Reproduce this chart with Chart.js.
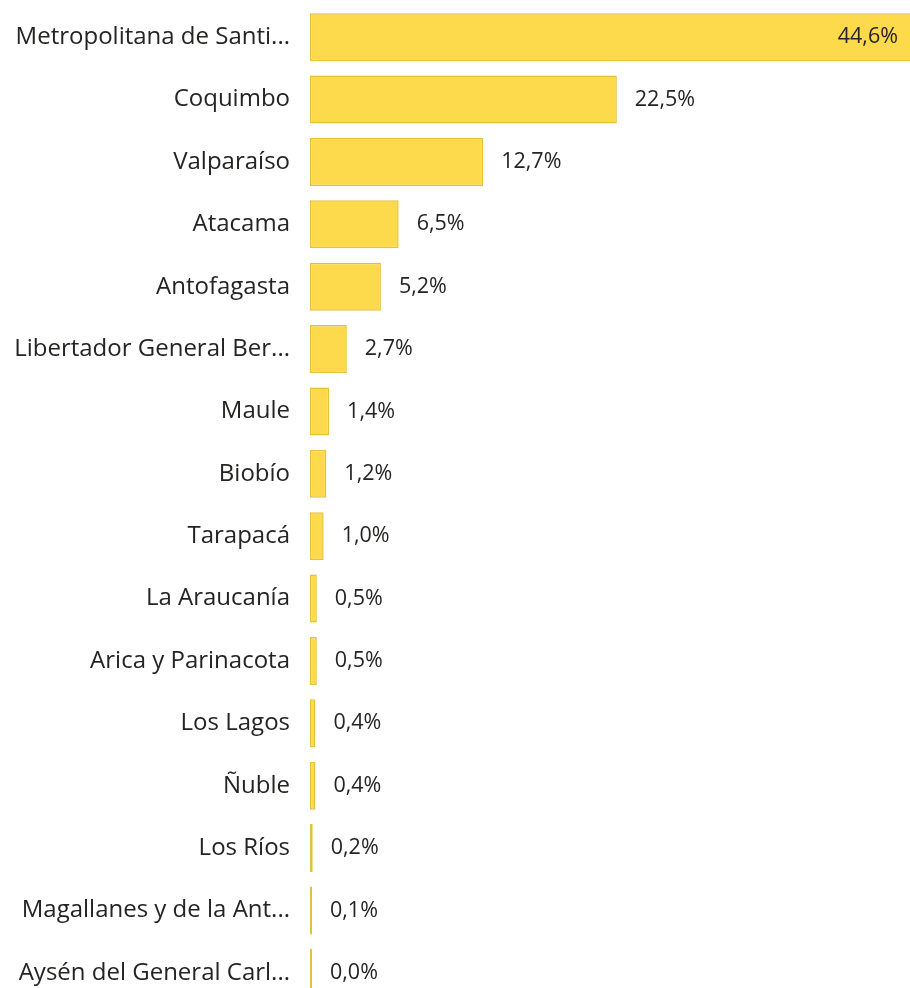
<!DOCTYPE html>
<html>
<head>
<meta charset="utf-8">
<script src="https://cdn.jsdelivr.net/npm/chart.js@4.4.1/dist/chart.umd.min.js"></script>
<style>
  html, body { margin: 0; padding: 0; background: #fff; overflow: hidden; }
  #wrap { position: relative; width: 910px; height: 1004px; }
</style>
</head>
<body>
<div id="wrap"><canvas id="chart"></canvas></div>
<script>
// regions as shown on the chart (truncated like the original)
const regions = [
  "Metropolitana de Santi...", "Coquimbo", "Valparaíso", "Atacama", "Antofagasta",
  "Libertador General Ber...", "Maule", "Biobío", "Tarapacá", "La Araucanía",
  "Arica y Parinacota", "Los Lagos", "Ñuble", "Los Ríos",
  "Magallanes y de la Ant...", "Aysén del General Carl..."
];
const shares = [44.6, 22.5, 12.7, 6.5, 5.2, 2.7, 1.4, 1.2, 1.0, 0.5, 0.5, 0.4, 0.4, 0.2, 0.1, 0.0];

const FONT = '"Open Sans", "Noto Sans", sans-serif';
const fmt = v => v.toFixed(1).replace(".", ",") + "%";

// ---------- DATA LABELS ----------
const valueLabels = {
  id: "valueLabels",
  afterDatasetsDraw(chart) {
    const ctx = chart.ctx;
    const meta = chart.getDatasetMeta(0);
    const area = chart.chartArea;
    ctx.save();
    ctx.font = "21.5px " + FONT;
    ctx.fillStyle = "#252423";
    ctx.textBaseline = "middle";
    meta.data.forEach((bar, i) => {
      const txt = fmt(shares[i]);
      const w = ctx.measureText(txt).width;
      let x = bar.x + 18;
      if (x + w > area.right - 4) {
        ctx.textAlign = "right";
        x = area.right - 12;
      } else {
        ctx.textAlign = "left";
      }
      ctx.fillText(txt, x, bar.y);
    });
    ctx.restore();
  }
};

new Chart(document.getElementById("chart"), {
  type: "bar",
  data: {
    labels: regions,
    datasets: [{
      data: shares,
      backgroundColor: "#FDD94C",
      borderColor: "#E6C03A",
      borderWidth: 1.5,
      borderSkipped: false,
      barPercentage: 0.77,
      categoryPercentage: 1,
      minBarLength: 2
    }]
  },
  options: {
    indexAxis: "y",
    responsive: true,
    maintainAspectRatio: false,
    animation: false,
    layout: { padding: { top: 6, right: 0, bottom: 0, left: 0 } },
    plugins: {
      legend: { display: false },
      tooltip: { enabled: false }
    },
    scales: {
      x: { display: false, min: 0, max: 44 },
      y: {
        grid: { display: false, drawTicks: true, tickLength: 20 },
        border: { display: false },
        ticks: {
          color: "#252423",
          padding: 0,
          font: { family: FONT, size: 24 }
        },
        afterFit(scale) {
          scale.width = 310;
          scale.paddingTop = 0;
          scale.paddingBottom = 0;
        }
      }
    }
  },
  plugins: [valueLabels]
});
</script>
</body>
</html>
